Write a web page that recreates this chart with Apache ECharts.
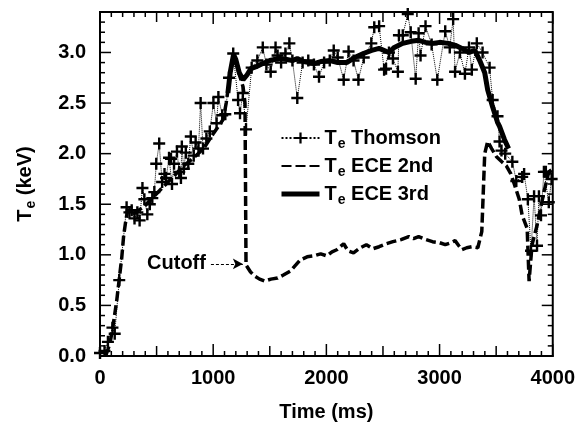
<!DOCTYPE html>
<html>
<head>
<meta charset="utf-8">
<script src="https://cdn.jsdelivr.net/npm/echarts@6/dist/echarts.min.js"></script>
<style>html,body{margin:0;padding:0;background:#fff}#c{width:578px;height:427px}</style>
</head>
<body>
<div id="c"></div>
<script>
// ---- data (time in ms, Te in keV) ----
const thomson = [[0,0.03],[40,0.05],[70,0.14],[110,0.28],[130,0.22],[170,0.75],[235,1.47],[260,1.42],[280,1.44],[305,1.36],[330,1.42],[350,1.34],[375,1.66],[392,1.55],[418,1.40],[440,1.50],[462,1.56],[480,1.62],[497,1.90],[523,2.10],[549,1.72],[570,1.80],[584,1.76],[610,1.96],[627,1.95],[636,1.70],[654,1.90],[680,2.02],[700,1.82],[715,1.76],[723,2.07],[740,1.85],[758,2.01],[780,1.90],[802,2.17],[828,1.98],[845,2.11],[870,2.05],[889,2.50],[910,2.05],[940,2.15],[970,2.22],[1002,2.50],[1030,2.30],[1046,2.56],[1080,2.38],[1107,2.39],[1140,2.75],[1177,2.99],[1220,2.53],[1237,2.40],[1262,2.60],[1290,2.24],[1340,2.85],[1390,2.92],[1438,3.05],[1470,2.88],[1508,2.81],[1551,3.05],[1569,2.97],[1600,2.90],[1638,2.99],[1673,3.09],[1700,2.92],[1743,2.55],[1790,2.90],[1840,2.92],[1890,2.88],[1935,2.76],[1980,2.90],[2030,2.92],[2065,3.02],[2100,2.95],[2153,2.73],[2196,3.01],[2240,2.92],[2283,2.73],[2330,2.95],[2397,3.09],[2423,3.25],[2466,3.26],[2510,2.83],[2527,2.84],[2553,3.00],[2588,2.94],[2632,2.81],[2641,3.17],[2675,3.17],[2719,3.38],[2745,3.20],[2789,2.74],[2815,3.19],[2832,2.97],[2876,3.26],[2930,3.08],[2980,2.73],[3050,3.21],[3090,3.05],[3120,3.33],[3137,2.81],[3180,3.00],[3224,2.79],[3260,3.05],[3285,2.83],[3329,3.09],[3380,3.00],[3442,2.85],[3469,2.53],[3512,2.37],[3530,2.12],[3547,2.03],[3580,2.00],[3643,1.92],[3678,1.73],[3730,1.77],[3747,1.80],[3780,1.55],[3808,1.04],[3835,1.58],[3861,1.09],[3878,1.58],[3896,1.39],[3922,1.82],[3939,1.82],[3965,1.52],[3990,1.75]];

const ece2nd = [[50,0.0],[87,0.12],[113,0.28],[148,0.55],[174,0.80],[192,0.97],[209,1.19],[227,1.33],[244,1.44],[305,1.41],[392,1.48],[479,1.58],[566,1.68],[654,1.78],[741,1.88],[828,1.96],[915,2.05],[1002,2.20],[1089,2.34],[1115,2.50],[1150,2.80],[1177,2.96],[1203,2.89],[1237,2.76],[1264,2.66],[1281,2.50],[1290,0.90],[1330,0.83],[1368,0.79],[1410,0.76],[1455,0.74],[1510,0.76],[1569,0.77],[1620,0.80],[1682,0.84],[1730,0.90],[1769,0.95],[1830,0.98],[1891,0.99],[1950,1.01],[2004,0.99],[2050,1.03],[2092,1.05],[2153,1.11],[2190,1.04],[2240,1.02],[2300,1.07],[2353,1.10],[2410,1.06],[2466,1.08],[2530,1.11],[2588,1.13],[2660,1.15],[2728,1.18],[2770,1.16],[2815,1.18],[2880,1.15],[2937,1.13],[3000,1.12],[3050,1.10],[3100,1.12],[3137,1.14],[3170,1.09],[3198,1.05],[3240,1.07],[3285,1.08],[3338,1.07],[3373,1.23],[3399,2.00],[3425,2.12],[3460,2.05],[3503,1.97],[3550,1.92],[3590,1.88],[3630,1.80],[3660,1.70],[3704,1.55],[3730,1.39],[3774,1.26],[3791,0.74],[3817,1.10],[3861,1.29],[3922,1.62],[3965,1.82],[4000,1.85]];

const ece3rd = [[1130,2.60],[1150,2.80],[1180,2.98],[1200,2.93],[1230,2.80],[1264,2.73],[1300,2.78],[1333,2.84],[1380,2.86],[1438,2.89],[1500,2.92],[1586,2.94],[1650,2.93],[1699,2.92],[1743,2.94],[1800,2.91],[1847,2.90],[1891,2.89],[1950,2.91],[2031,2.92],[2100,2.90],[2179,2.90],[2250,2.95],[2327,2.99],[2400,3.02],[2466,3.04],[2553,3.00],[2600,3.05],[2675,3.09],[2750,3.11],[2815,3.12],[2876,3.10],[2937,3.09],[3000,3.10],[3076,3.09],[3140,3.07],[3198,3.04],[3260,3.00],[3312,3.02],[3355,2.92],[3399,2.80],[3425,2.63],[3469,2.46],[3512,2.31],[3530,2.27],[3573,2.14],[3610,2.05]];

const seriesNames = ['Thomson', 'ECE 2nd', 'ECE 3rd'];
const cutoffArrow = {label: 'Cutoff', from: [980, 0.91], to: [1262, 0.91]};
const xRange = [0, 4000];
const yRange = [0, 3.4];
const xTickStep = 100;   // small ticks every 100 ms, medium at 500, large at 1000
const yTickStep = 0.1;   // small ticks every 0.1 keV, large at 0.5

const FONT = '"Liberation Sans", Arial, sans-serif';
const plus = 'path://M4,0H6V4H10V6H6V10H4V6H0V4H4Z';
const lbl = {color: '#000', fontFamily: FONT, fontWeight: 'bold', fontSize: 20};
const richTe = {t: {fontSize: 20, fontWeight: 'bold', fontFamily: FONT, color: '#000'},
                s: {fontSize: 14, fontWeight: 'bold', fontFamily: FONT, color: '#000', padding: [12, 0, 0, 1]}};
const axLine = {show: true, onZero: false, lineStyle: {color: '#000', width: 2}};

const chart = echarts.init(document.getElementById('c'));
chart.setOption({
  animation: false,
  backgroundColor: '#fff',
  grid: {left: 100, right: 19, top: 12, bottom: 68, show: true, borderColor: '#000', borderWidth: 2},
  legend: {
    orient: 'vertical', left: 274, top: 123, itemWidth: 38, itemHeight: 14, itemGap: 5,
    data: [{name: seriesNames[0]},
           {name: seriesNames[1], itemStyle: {opacity: 0}},
           {name: seriesNames[2], itemStyle: {opacity: 0}, lineStyle: {width: 5}}],
    formatter: n => '{t|T}{s|e}{t| ' + n + '}',
    textStyle: Object.assign({}, lbl, {rich: richTe})
  },
  xAxis: {
    type: 'value', min: xRange[0], max: xRange[1], interval: 1000, splitLine: {show: false},
    name: 'Time (ms)', nameLocation: 'middle', nameGap: 46, nameTextStyle: lbl,
    axisLine: axLine, axisTick: {show: false}, minorTick: {show: false},
    axisLabel: Object.assign({}, lbl, {margin: 12, formatter: v => String(Math.round(v))})
  },
  yAxis: {
    type: 'value', min: yRange[0], max: yRange[1], interval: 0.5, splitLine: {show: false},
    name: '{t|T}{s|e}{t| (keV)}', nameLocation: 'middle', nameGap: 62, nameRotate: 90,
    nameTextStyle: Object.assign({}, lbl, {rich: richTe}),
    axisLine: axLine, axisTick: {show: false}, minorTick: {show: false},
    axisLabel: Object.assign({}, lbl, {margin: 14, formatter: v => (Math.abs(v * 2 - Math.round(v * 2)) < 1e-6 ? v.toFixed(1) : '')})
  },
  series: [{
    name: seriesNames[0], type: 'line', data: thomson,
    symbol: plus, symbolSize: 12,
    itemStyle: {color: '#000'},
    lineStyle: {color: '#000', width: 1, type: 'dotted'}, z: 3
  }, {
    name: seriesNames[1], type: 'line', data: ece2nd, symbol: 'none',
    itemStyle: {color: '#000'},
    lineStyle: {color: '#000', width: 3.5, type: [10, 4]},
    markLine: {
      silent: true, symbol: ['none', 'arrow'], symbolSize: [8, 10],
      lineStyle: {color: '#000', width: 1.2, type: [3, 2]},
      label: {show: true, position: 'start', formatter: cutoffArrow.label, color: '#000', fontFamily: FONT, fontWeight: 'bold', fontSize: 20, distance: 5},
      data: [[{coord: cutoffArrow.from}, {coord: cutoffArrow.to}]]
    }
  }, {
    name: seriesNames[2], type: 'line', data: ece3rd, symbol: 'none',
    itemStyle: {color: '#000'},
    lineStyle: {color: '#000', width: 5}
  }]
});

// inward tick marks on all four sides, placed through the chart's own scales
const toPx = (pt) => chart.convertToPixel({gridIndex: 0}, pt);
const tickEls = [];
const addTick = (p, dx, dy) => tickEls.push({
  type: 'line', silent: true, z: 100,
  shape: {x1: p[0], y1: p[1], x2: p[0] + dx, y2: p[1] + dy},
  style: {stroke: '#000', lineWidth: 1.5}
});
const nx = Math.round((xRange[1] - xRange[0]) / xTickStep);
for (let i = 0; i <= nx; i++) {
  const v = xRange[0] + i * xTickStep;
  const len = i % 10 === 0 ? 12 : (i % 5 === 0 ? 10 : 5);
  addTick(toPx([v, yRange[0]]), 0, -len);
  addTick(toPx([v, yRange[1]]), 0, len);
}
const ny = Math.floor((yRange[1] - yRange[0]) / yTickStep + 1e-6);
for (let i = 0; i <= ny; i++) {
  const v = yRange[0] + i * yTickStep;
  const len = i % 5 === 0 ? 11 : 5;
  addTick(toPx([xRange[0], v]), len, 0);
  addTick(toPx([xRange[1], v]), -len, 0);
}
chart.setOption({graphic: {elements: tickEls}});
</script>
</body>
</html>
